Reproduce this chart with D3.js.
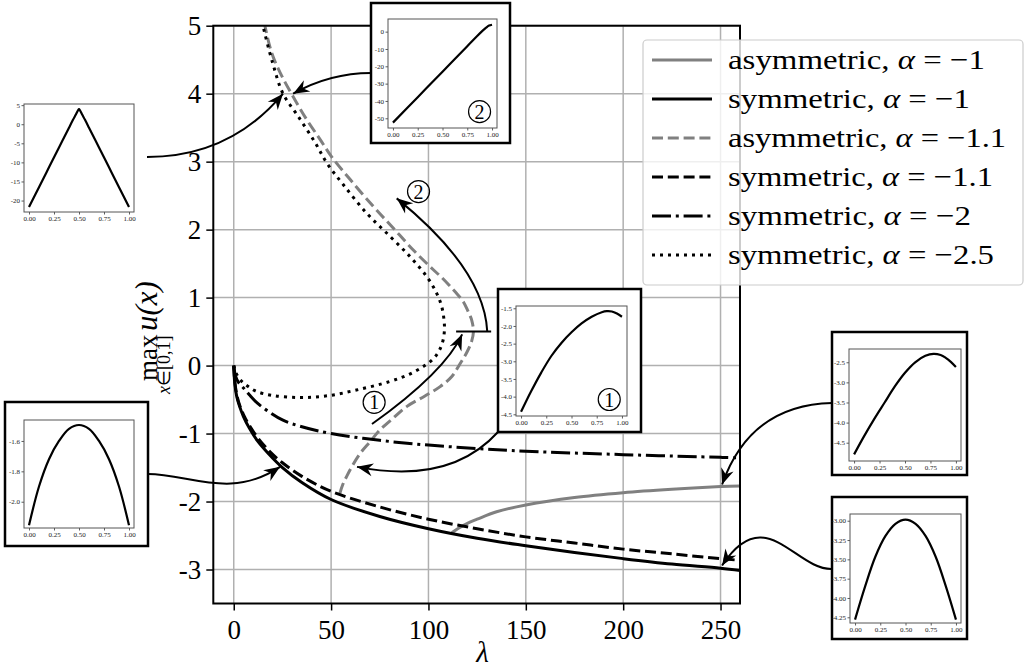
<!DOCTYPE html>
<html>
<head>
<meta charset="utf-8">
<script src="https://cdn.jsdelivr.net/npm/d3@7"></script>
<style>
  body { margin: 0; background: #fff; }
  svg { display: block; }
</style>
</head>
<body>
<svg id="chart" width="1024" height="671"></svg>
<script>
// ---------- axis ticks ----------
const lambdaTicks = [0, 50, 100, 150, 200, 250];
const uTicks = [-3, -2, -1, 0, 1, 2, 3, 4, 5];

// ---------- bifurcation branches: [lambda, max u] ----------
const asymAlpha1 = [[112,-2.46],[115,-2.4],[120,-2.32],[125,-2.26],[135,-2.15],[150,-2.05],[175,-1.94],[200,-1.87],[225,-1.82],[250,-1.78],[260,-1.77]];
const symAlpha1 = [[0,0],[0.5,-0.25],[1.5,-0.45],[3,-0.6],[5,-0.75],[8,-0.92],[12,-1.1],[18,-1.3],[25,-1.5],[35,-1.72],[50,-1.97],[75,-2.22],[100,-2.4],[125,-2.54],[150,-2.65],[175,-2.75],[200,-2.84],[225,-2.92],[250,-2.98],[262,-3.02]];
const asymAlpha11 = [[54.5,-1.88],[56,-1.75],[58,-1.63],[61,-1.47],[65,-1.29],[70,-1.12],[75,-0.95],[82,-0.77],[89,-0.6],[98,-0.45],[106,-0.31],[112,-0.16],[116.3,0.03],[119.8,0.2],[122.2,0.36],[123.1,0.5],[122.2,0.67],[120.3,0.8],[117.9,0.94],[114.5,1.06],[111,1.17],[107,1.29],[102.5,1.41],[92.2,1.7],[82,2.02],[71.7,2.34],[59.7,2.74],[50.3,3.07],[44.5,3.32],[37,3.64],[30,3.98],[24,4.3],[19.5,4.6],[16,5.0],[15.3,5.1]];
const symAlpha11 = [[0,0],[0.5,-0.22],[1.5,-0.42],[3,-0.58],[5,-0.72],[8,-0.88],[12,-1.05],[18,-1.25],[25,-1.43],[35,-1.63],[50,-1.85],[75,-2.08],[100,-2.26],[125,-2.4],[150,-2.52],[175,-2.61],[200,-2.7],[225,-2.77],[250,-2.84],[258,-2.86]];
const symAlpha2 = [[0,0],[0.5,-0.1],[1.5,-0.2],[3,-0.27],[5,-0.33],[8,-0.43],[12,-0.55],[18,-0.68],[25,-0.8],[35,-0.9],[50,-1.0],[75,-1.1],[100,-1.17],[125,-1.22],[150,-1.26],[200,-1.31],[250,-1.35],[258,-1.355]];
const symAlpha25 = [[0,0],[1,-0.1],[3.4,-0.21],[7,-0.3],[11.7,-0.38],[20,-0.44],[34,-0.47],[48,-0.445],[63,-0.36],[80,-0.235],[90,-0.13],[97.5,-0.01],[102.5,0.1],[105.5,0.22],[107.4,0.36],[108.2,0.52],[108,0.67],[106.8,0.87],[104.3,1.06],[99.1,1.31],[90.6,1.6],[80.3,1.9],[68.3,2.24],[56.3,2.66],[47.8,2.98],[41.8,3.28],[33,3.67],[25.3,4.0],[20,4.45],[15,5.0],[14.3,5.1]];

// ---------- legend text ----------
const legendNames = ["asymmetric", "symmetric", "asymmetric", "symmetric", "symmetric", "symmetric"];
const alphaLabels = ["\u22121", "\u22121", "\u22121.1", "\u22121.1", "\u22122", "\u22122.5"];

// ---------- solution profiles u(x) shown in the small panels ----------
const profileX = [0, 0.1, 0.2, 0.3, 0.4, 0.5, 0.6, 0.7, 0.8, 0.9, 1.0];
const profileTLx = [0,0.1,0.2,0.3,0.4,0.44,0.47,0.49,0.5,0.51,0.53,0.56,0.6,0.7,0.8,0.9,1.0];
const profileTL  = [-21.7,-16.5,-11.3,-6.1,-0.9,1.15,2.6,3.65,3.96,3.65,2.6,1.15,-0.9,-6.1,-11.3,-16.5,-21.7];
const profileUpperX = [0,0.25,0.5,0.75,0.85,0.9,0.94,0.97,1.0];
const profileUpper  = [-52.5,-37.8,-23.1,-8.4,-2.5,0.3,2.3,3.5,4.0];
const profileLowerX = [0,0.1,0.2,0.3,0.4,0.5,0.6,0.7,0.8,0.85,0.9,0.95,1.0];
const profileLower  = [-4.43,-3.85,-3.32,-2.85,-2.48,-2.18,-1.93,-1.74,-1.61,-1.58,-1.59,-1.65,-1.74];
const profileRTx = [0,0.1,0.2,0.3,0.4,0.5,0.6,0.7,0.78,0.85,0.9,0.95,1.0];
const profileRT  = [-4.79,-4.33,-3.9,-3.5,-3.1,-2.76,-2.5,-2.34,-2.29,-2.32,-2.39,-2.49,-2.62];
const profileLB  = [-2.155,-1.9,-1.72,-1.6,-1.52,-1.495,-1.52,-1.6,-1.72,-1.9,-2.155];
const profileRB  = [-4.28,-3.85,-3.47,-3.2,-3.04,-2.985,-3.04,-3.2,-3.47,-3.85,-4.28];

const profileTicksX = [0, 0.25, 0.5, 0.75, 1.0];
const ticksTL = [5, 0, -5, -10, -15, -20];
const ticksUpper = [0, -10, -20, -30, -40, -50];
const ticksLower = [-1.5, -2.0, -2.5, -3.0, -3.5, -4.0, -4.5];
const ticksRT = [-2.5, -3.0, -3.5, -4.0, -4.5];
const ticksLB = [-1.6, -1.8, -2.0];
const ticksRB = [-3.0, -3.25, -3.5, -3.75, -4.0, -4.25];

// ---------- layout ----------
const SERIF = '"Liberation Serif", "Times New Roman", serif';
const svg = d3.select("#chart");
const plot = { left: 213.3, right: 740, top: 25.7, bottom: 603.5 };
const x = d3.scaleLinear().domain([-10.5, 260]).range([plot.left, plot.right]);
const y = d3.scaleLinear().domain([-3.5, 5]).range([plot.bottom, plot.top]);

const hy = s => s.replace(/\u2212/g, "-");

const defs = svg.append("defs");
defs.append("clipPath").attr("id", "plotClip")
  .append("rect").attr("x", plot.left).attr("y", plot.top)
  .attr("width", plot.right - plot.left).attr("height", plot.bottom - plot.top);
defs.append("marker").attr("id", "head")
  .attr("viewBox", "-17 -8 18 16").attr("refX", 0).attr("refY", 0)
  .attr("markerWidth", 18).attr("markerHeight", 16)
  .attr("markerUnits", "userSpaceOnUse").attr("orient", "auto")
  .append("path").attr("d", "M0,0 L-16,-6.5 L-11,0 L-16,6.5 Z").attr("fill", "#000");

// grid
const grid = svg.append("g").attr("stroke", "#b0b0b0").attr("stroke-width", 1.5);
grid.selectAll("line.gx").data(lambdaTicks).join("line")
  .attr("x1", d => x(d)).attr("x2", d => x(d)).attr("y1", plot.top).attr("y2", plot.bottom);
grid.selectAll("line.gy").data(uTicks).join("line")
  .attr("y1", d => y(d)).attr("y2", d => y(d)).attr("x1", plot.left).attr("x2", plot.right);

// branches
const series = [
  { data: asymAlpha1,  color: "#808080", dash: null },
  { data: symAlpha1,   color: "#000",    dash: null },
  { data: asymAlpha11, color: "#808080", dash: "11,4.8" },
  { data: symAlpha11,  color: "#000",    dash: "11,4.8" },
  { data: symAlpha2,   color: "#000",    dash: "19,4.8,3,4.8" },
  { data: symAlpha25,  color: "#000",    dash: "3,5" }
];
const line = d3.line().x(d => x(d[0])).y(d => y(d[1])).curve(d3.curveCatmullRom.alpha(0.5));
const curves = svg.append("g").attr("clip-path", "url(#plotClip)");
series.forEach(s => {
  curves.append("path").attr("d", line(s.data)).attr("fill", "none")
    .attr("stroke", s.color).attr("stroke-width", 3)
    .attr("stroke-dasharray", s.dash);
});

// axes
const xAxis = svg.append("g").attr("transform", `translate(0,${plot.bottom})`)
  .call(d3.axisBottom(x).tickValues(lambdaTicks).tickSize(7).tickPadding(6).tickFormat(d3.format("d")));
const yAxis = svg.append("g").attr("transform", `translate(${plot.left},0)`)
  .call(d3.axisLeft(y).tickValues(uTicks).tickSize(7).tickPadding(5).tickFormat(d => hy(d3.format("d")(d))));
[xAxis, yAxis].forEach(a => {
  a.select(".domain").remove();
  a.selectAll(".tick line").attr("stroke", "#000").attr("stroke-width", 1.5);
  a.selectAll(".tick text").attr("font-size", 27);
});
xAxis.selectAll(".tick text").attr("dy", "0.85em");
yAxis.selectAll(".tick text").attr("dy", "0.33em");

svg.append("rect").attr("x", plot.left).attr("y", plot.top)
  .attr("width", plot.right - plot.left).attr("height", plot.bottom - plot.top)
  .attr("fill", "none").attr("stroke", "#000").attr("stroke-width", 2);

// axis labels
svg.append("text").attr("x", (plot.left + plot.right) / 2 + 6).attr("y", 662)
  .attr("text-anchor", "middle").attr("font-size", 29).attr("font-style", "italic").text("\u03bb");
const yl = svg.append("g").attr("transform", "translate(157,360) rotate(-90)");
yl.append("text").attr("x", -21).attr("y", 0).attr("font-size", 27).text("max");
yl.append("text").attr("x", 29).attr("y", 0).attr("font-size", 31).attr("font-style", "italic").text("u(x)");
const sub = yl.append("text").attr("x", -34).attr("y", 13).attr("font-size", 18);
sub.append("tspan").attr("font-style", "italic").text("x");
sub.append("tspan").text("\u2208[0,1]");

// circled step markers
function circled(g, cx, cy, digit) {
  g.append("circle").attr("cx", cx).attr("cy", cy).attr("r", 11)
    .attr("fill", "none").attr("stroke", "#000").attr("stroke-width", 1.2);
  g.append("text").attr("x", cx).attr("y", cy).attr("dy", "0.35em")
    .attr("text-anchor", "middle").attr("font-size", 20).text(digit);
}

// annotations on the branches
const ann = svg.append("g").attr("fill", "none").attr("stroke", "#000").attr("stroke-width", 2);
function quad(p0, c, p1) { const p = d3.path(); p.moveTo(...p0); p.quadraticCurveTo(...c, ...p1); return p.toString(); }
function cubic(p0, c1, c2, p1) { const p = d3.path(); p.moveTo(...p0); p.bezierCurveTo(...c1, ...c2, ...p1); return p.toString(); }
const P = (l, u) => [x(l), y(u)];

// turning-point bracket and the two traversal arrows
ann.append("line").attr("x1", x(114.2)).attr("x2", x(132.2)).attr("y1", y(0.5)).attr("y2", y(0.5));
ann.append("path").attr("d", quad(P(71, -0.86), P(108.5, -0.09), P(117.3, 0.46))).attr("marker-end", "url(#head)");
ann.append("path").attr("d", quad(P(130.2, 0.5), P(128.6, 1.42), P(83.7, 2.46))).attr("marker-end", "url(#head)");
circled(svg, x(72.1), y(-0.54), "1");
circled(svg, x(94.9), y(2.56), "2");

// connectors from the profile panels to branch points
ann.append("path").attr("d", quad([147, 157], [230, 157], P(25.3, 4.0))).attr("marker-end", "url(#head)");
ann.append("path").attr("d", quad([371, 73], [330, 73], P(30.5, 4.0))).attr("marker-end", "url(#head)");
ann.append("path").attr("d", quad([498, 432], [450, 485], P(63.3, -1.49))).attr("marker-end", "url(#head)");
ann.append("path").attr("d", cubic([148, 474], [190, 474], [230, 500], P(23.8, -1.49))).attr("marker-end", "url(#head)");
ann.append("path").attr("d", quad([832, 403], [750, 405], P(250.8, -1.75))).attr("marker-end", "url(#head)");
ann.append("path").attr("d", cubic([832, 569], [795, 570], [765, 500], P(250.8, -2.94))).attr("marker-end", "url(#head)");

// legend
const legendBox = { x: 643, y: 40, w: 380, h: 245, row0: 60, rowStep: 39 };
const legendWidths = [257, 242, 278, 265, 243, 266];
const lg = svg.append("g");
lg.append("rect").attr("x", legendBox.x).attr("y", legendBox.y).attr("width", legendBox.w).attr("height", legendBox.h)
  .attr("rx", 4).attr("fill", "#fff").attr("fill-opacity", 0.8).attr("stroke", "#cccccc").attr("stroke-width", 1.2);
series.forEach((s, i) => {
  const cy = legendBox.row0 + i * legendBox.rowStep;
  lg.append("line").attr("x1", 652).attr("x2", 712).attr("y1", cy).attr("y2", cy)
    .attr("stroke", s.color).attr("stroke-width", 3).attr("stroke-dasharray", s.dash);
  const t = lg.append("text").attr("x", 728).attr("y", cy + 8.5).attr("font-size", 28)
    .attr("textLength", legendWidths[i]).attr("lengthAdjust", "spacingAndGlyphs");
  t.append("tspan").text(legendNames[i] + ", ");
  t.append("tspan").attr("font-style", "italic").text("\u03b1");
  t.append("tspan").text(" = " + alphaLabels[i]);
});

// profile panels
function panel(cfg) {
  const g = svg.append("g");
  if (cfg.frame) {
    const [fx0, fy0, fx1, fy1] = cfg.frame;
    g.append("rect").attr("x", fx0).attr("y", fy0).attr("width", fx1 - fx0).attr("height", fy1 - fy0)
      .attr("fill", "#fff").attr("stroke", "#000").attr("stroke-width", 2.5);
  }
  const [ax0, ay0, ax1, ay1] = cfg.axes;
  const px = d3.scaleLinear().domain([-0.05, 1.05]).range([ax0, ax1]);
  const py = d3.scaleLinear().domain(cfg.yDomain).range([ay1, ay0]);
  g.append("rect").attr("x", ax0).attr("y", ay0).attr("width", ax1 - ax0).attr("height", ay1 - ay0)
    .attr("fill", "#fff");
  const xa = g.append("g").attr("transform", `translate(0,${ay1})`)
    .call(d3.axisBottom(px).tickValues(profileTicksX).tickSize(2.5).tickPadding(1.5).tickFormat(d3.format(".2f")));
  const ya = g.append("g").attr("transform", `translate(${ax0},0)`)
    .call(d3.axisLeft(py).tickValues(cfg.yTicks).tickSize(2.5).tickPadding(1.5).tickFormat(d => hy(d3.format(cfg.fmt)(d))));
  [xa, ya].forEach(a => {
    a.select(".domain").remove();
    a.selectAll(".tick line").attr("stroke", "#333").attr("stroke-width", 0.8);
    a.selectAll(".tick text").attr("font-size", 7).attr("fill", "#222");
  });
  const pl = d3.line().x((d, i) => px(cfg.xs[i])).y(d => py(d)).curve(d3.curveCatmullRom.alpha(0.5));
  g.append("path").attr("d", pl(cfg.us)).attr("fill", "none").attr("stroke", "#000").attr("stroke-width", 2.2);
  g.append("rect").attr("x", ax0).attr("y", ay0).attr("width", ax1 - ax0).attr("height", ay1 - ay0)
    .attr("fill", "none").attr("stroke", "#555").attr("stroke-width", 1);
  if (cfg.mark) circled(g, ax0 + 0.84 * (ax1 - ax0), ay0 + 0.85 * (ay1 - ay0), cfg.mark);
}

panel({ frame: null, axes: [24, 104, 134, 212], yDomain: [-23, 5.3], yTicks: ticksTL, fmt: "d", xs: profileTLx, us: profileTL });
panel({ frame: [371, 3, 510, 143], axes: [388, 19, 497, 128], yDomain: [-55.6, 7.3], yTicks: ticksUpper, fmt: "d", xs: profileUpperX, us: profileUpper, mark: "2" });
panel({ frame: [498, 289, 641, 432], axes: [516, 306, 627, 416], yDomain: [-4.548, -1.435], yTicks: ticksLower, fmt: ".1f", xs: profileLowerX, us: profileLower, mark: "1" });
panel({ frame: [832, 332, 967, 475], axes: [849, 349, 961, 461], yDomain: [-4.955, -2.17], yTicks: ticksRT, fmt: ".1f", xs: profileRTx, us: profileRT });
panel({ frame: [5, 402, 148, 546], axes: [24, 420, 134, 528], yDomain: [-2.173, -1.462], yTicks: ticksLB, fmt: ".1f", xs: profileX, us: profileLB });
panel({ frame: [832, 497, 967, 639], axes: [850, 514, 961, 623], yDomain: [-4.324, -2.913], yTicks: ticksRB, fmt: ".2f", xs: profileX, us: profileRB });

// one serif face for every label
svg.selectAll("g").attr("font-family", null);
svg.selectAll("text").style("font-family", SERIF);
</script>
</body>
</html>
